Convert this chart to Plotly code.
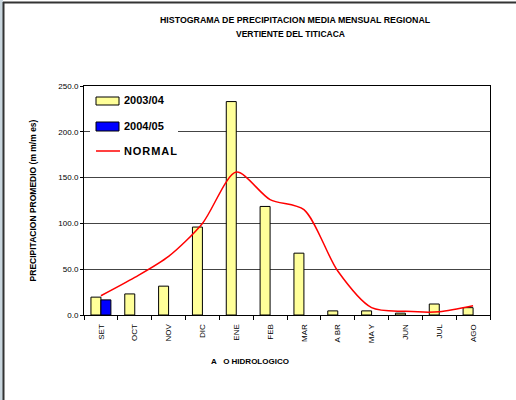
import plotly.graph_objects as go

months = ["SET", "OCT", "NOV", "DIC", "ENE", "FEB", "MAR", "A BR", "MA Y", "JUN", "JUL", "AGO"]
s2003 = [19.5, 23, 31.5, 96, 233, 118.5, 67.5, 4.5, 4.5, 2, 12, 8]
s2004 = [16.5, None, None, None, None, None, None, None, None, None, None, None]
normal = [21, 41, 64, 100, 156, 126, 115, 48, 8, 4, 3.5, 10]
yticks = [0, 50, 100, 150, 200, 250]
legend_names = ["2003/04", "2004/05", "NORMAL"]
colors = ["#FFFF99", "#0000FF", "#FF0000"]

W, H = 516, 400
L, R, T, B = 84, 26, 86, 85
pw, ph = W - L - R, H - T - B

def px(x):
    return (x - L) / pw

def py(y):
    return (H - B - y) / ph

FONT = "Liberation Sans, Arial, sans-serif"

fig = go.Figure()
fig.add_trace(go.Bar(x=months, y=s2003, name=legend_names[0],
                     marker=dict(color=colors[0], line=dict(color="black", width=1))))
fig.add_trace(go.Bar(x=months, y=s2004, name=legend_names[1],
                     marker=dict(color=colors[1], line=dict(color="black", width=1))))
fig.add_trace(go.Scatter(x=months, y=normal, name=legend_names[2], mode="lines",
                         line=dict(color=colors[2], width=1.5, shape="spline", smoothing=0.8)))

fig.update_layout(
    width=W, height=H,
    margin=dict(l=L, r=R, t=T, b=B, pad=0),
    paper_bgcolor="white", plot_bgcolor="white",
    barmode="group", bargap=0.41, bargroupgap=0,
    font=dict(family=FONT, size=8, color="black"),
    showlegend=False,
    xaxis=dict(type="category", tickson="boundaries", ticks="outside", ticklen=4,
               tickcolor="black", tickangle=-90, showline=True, linecolor="black",
               mirror=True, tickfont=dict(family=FONT, size=8), showgrid=False,
               ticklabelstandoff=5),
    yaxis=dict(range=[0, 250], tickvals=yticks, ticktext=[f"{v:.1f}" for v in yticks],
               ticks="outside", ticklen=3, tickcolor="black", showline=True,
               linecolor="black", mirror=True, showgrid=True, gridcolor="#444444",
               gridwidth=1, tickfont=dict(family=FONT, size=8), zeroline=False,
               title=dict(text="PRECIPITACION PROMEDIO (m m/m es)",
                          font=dict(family=FONT, size=8.5, weight="bold"), standoff=20)),
)

def ann(text, x, y, size, xanchor="center"):
    fig.add_annotation(text=text, x=px(x), y=py(y), xref="paper", yref="paper",
                       showarrow=False, xanchor=xanchor, yanchor="middle",
                       font=dict(family=FONT, size=size, weight="bold", color="black"))

ann("HISTOGRAMA DE PRECIPITACION MEDIA MENSUAL REGIONAL", 295, 20, 8.8)
ann("VERTIENTE DEL TITICACA", 290, 34, 8.5)
ann("A   O HIDROLOGICO", 250, 361, 8)

# legend (manual, Excel-style)
fig.add_shape(type="rect", xref="paper", yref="paper", x0=px(90), x1=px(178), y0=py(162), y1=py(88),
              fillcolor="white", line_width=0, layer="above")
fig.add_shape(type="rect", xref="paper", yref="paper", x0=px(96), x1=px(119), y0=py(105), y1=py(97),
              fillcolor=colors[0], line=dict(color="black", width=1), layer="above")
fig.add_shape(type="rect", xref="paper", yref="paper", x0=px(96), x1=px(119), y0=py(131), y1=py(122),
              fillcolor=colors[1], line=dict(color="black", width=1), layer="above")
fig.add_shape(type="line", xref="paper", yref="paper", x0=px(96), x1=px(120), y0=py(151), y1=py(151),
              line=dict(color=colors[2], width=1.5), layer="above")
ann(legend_names[0], 122, 100, 11, "left")
ann(legend_names[1], 122, 126, 11, "left")
fig.add_annotation(text="\u200a".join(legend_names[2]), x=px(122), y=py(151), xref="paper",
                   yref="paper", showarrow=False, xanchor="left", yanchor="middle",
                   font=dict(family=FONT, size=11, weight="bold", color="black"))

# page frame
fig.add_shape(type="rect", xref="paper", yref="paper", x0=px(0), x1=px(3), y0=py(400), y1=py(0),
              fillcolor="#c9d6de", line_width=0, layer="above")
fig.add_shape(type="line", xref="paper", yref="paper", x0=px(3.5), x1=px(3.5), y0=py(400), y1=py(2),
              line=dict(color="#333333", width=2), layer="above")
fig.add_shape(type="line", xref="paper", yref="paper", x0=px(3), x1=px(516), y0=py(2.5), y1=py(2.5),
              line=dict(color="#333333", width=2), layer="above")

fig.write_html("out.html", config={"displayModeBar": False},
               post_script="document.body.style.margin='0';document.body.style.overflow='hidden';")
